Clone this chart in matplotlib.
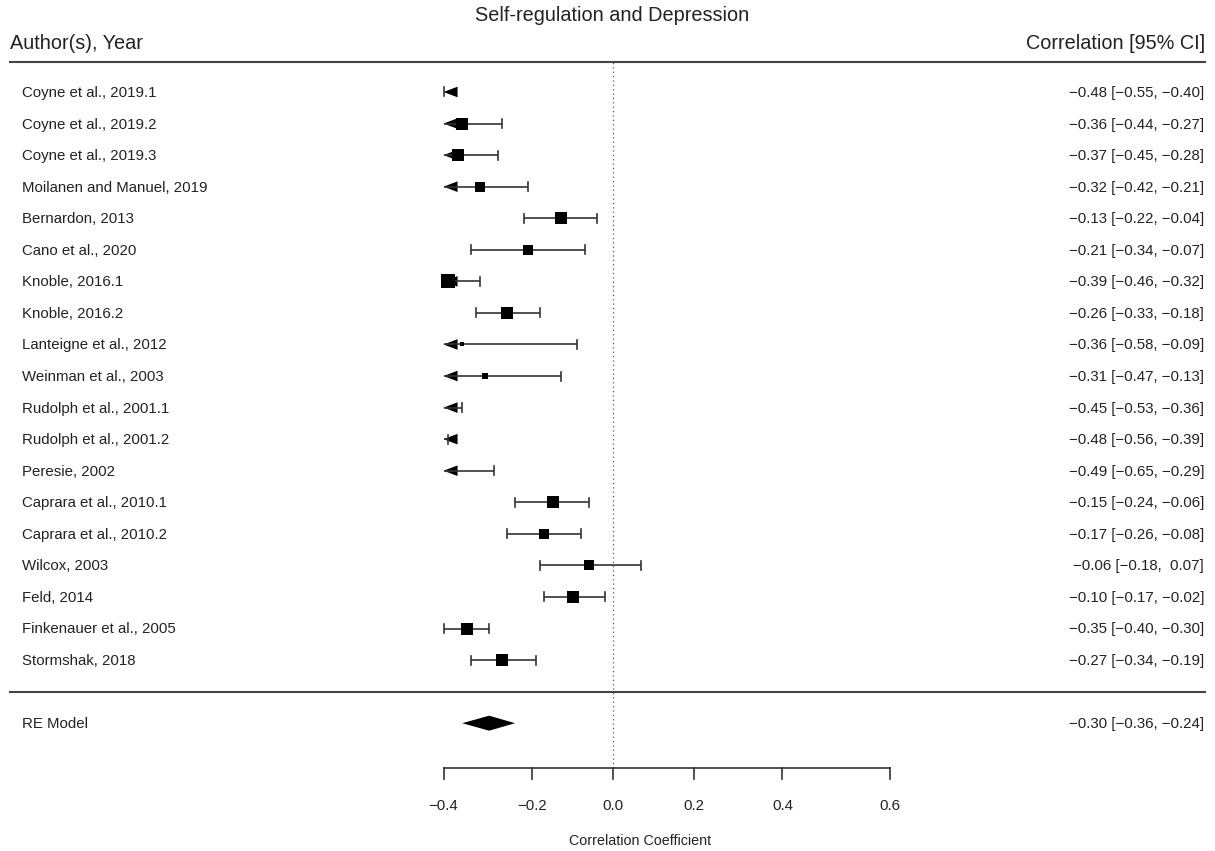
import numpy as np
import matplotlib.pyplot as plt
from matplotlib.patches import Polygon

plt.rcParams['font.family'] = ['Liberation Sans', 'DejaVu Sans']

authors = ["Coyne et al., 2019.1", "Coyne et al., 2019.2", "Coyne et al., 2019.3",
           "Moilanen and Manuel, 2019", "Bernardon, 2013", "Cano et al., 2020",
           "Knoble, 2016.1", "Knoble, 2016.2", "Lanteigne et al., 2012",
           "Weinman et al., 2003", "Rudolph et al., 2001.1", "Rudolph et al., 2001.2",
           "Peresie, 2002", "Caprara et al., 2010.1", "Caprara et al., 2010.2",
           "Wilcox, 2003", "Feld, 2014", "Finkenauer et al., 2005", "Stormshak, 2018"]
est = [-0.48, -0.36, -0.37, -0.32, -0.13, -0.21, -0.39, -0.26, -0.36, -0.31,
       -0.45, -0.48, -0.49, -0.15, -0.17, -0.06, -0.10, -0.35, -0.27]
lower = [-0.55, -0.44, -0.45, -0.42, -0.22, -0.34, -0.46, -0.33, -0.58, -0.47,
         -0.53, -0.56, -0.65, -0.24, -0.26, -0.18, -0.17, -0.40, -0.34]
upper = [-0.40, -0.27, -0.28, -0.21, -0.04, -0.07, -0.32, -0.18, -0.09, -0.13,
         -0.36, -0.39, -0.29, -0.06, -0.08, 0.07, -0.02, -0.30, -0.19]
weights = [5.8, 5.3, 5.2, 4.8, 5.1, 4.3, 6.4, 5.2, 2.4, 3.3,
           5.6, 5.5, 3.4, 5.1, 4.9, 4.7, 5.1, 5.6, 5.1]

re_est, re_lower, re_upper = -0.30, -0.36, -0.24

tick_vals = [-0.4, -0.2, 0.0, 0.2, 0.4, 0.6]

title = "Self-regulation and Depression"
xlabel = "Correlation Coefficient"

# everything is plotted on the Fisher z scale, labels are back-transformed r
z = np.arctanh
alim = (z(tick_vals[0]), z(tick_vals[-1]))

W, H = 1215, 851
fig = plt.figure(figsize=(W / 100, H / 100), dpi=100)
ax = fig.add_axes([0, 0, 1, 1])
ax.set_axis_off()

# one x unit = 400 px, one row = 31.56 px
px_x = 400.0
px_row = 31.56
x0 = 613
ax.set_xlim(-x0 / px_x, (W - x0) / px_x)
ax.set_ylim(19 - (H - 92) / px_row, 19 + 92 / px_row)

k = len(authors)
rows = np.arange(k, 0, -1)
fs = 10.8
tc = '#222222'
lc = '#333333'


def fmt(v):
    return f"{v:5.2f}".replace('-', '\u2212')


def ci_text(e, lo, hi):
    s_lo = fmt(lo).strip()
    s_hi = fmt(hi).strip()
    gap = ',  ' if hi >= 0 else ', '
    return f"{fmt(e).strip()} [{s_lo}{gap}{s_hi}]"


xl = (22 - x0) / px_x
xr = (1204 - x0) / px_x
tick_h = 4.5 / px_row
arr_len = 14 / px_x
arr_h = 5.3 / px_row

wmin, wmax = min(weights), max(weights)

for i in range(k):
    r = rows[i]
    lo, hi, yi = z(lower[i]), z(upper[i]), z(est[i])
    ax.text(xl, r - 0.03, authors[i], ha='left', va='center', fontsize=fs, color=tc)
    ax.text(xr, r - 0.03, ci_text(est[i], lower[i], upper[i]),
            ha='right', va='center', fontsize=fs, color=tc)

    lo_c = max(lo, alim[0])
    hi_c = min(hi, alim[1])
    ax.plot([lo_c, hi_c], [r, r], color=lc, lw=1.2, solid_capstyle='butt')
    if lo < alim[0] - 1e-9:
        ax.add_patch(Polygon([[alim[0], r], [alim[0] + arr_len, r + arr_h],
                              [alim[0] + arr_len, r - arr_h]], closed=True,
                             color='black', lw=0))
    else:
        ax.plot([lo, lo], [r - tick_h, r + tick_h], color=lc, lw=1.2)
    if hi > alim[1]:
        ax.add_patch(Polygon([[alim[1], r], [alim[1] - arr_len, r + arr_h],
                              [alim[1] - arr_len, r - arr_h]], closed=True,
                             color='black', lw=0))
    else:
        ax.plot([hi, hi], [r - tick_h, r + tick_h], color=lc, lw=1.2)

    # square size grows with the study weight, hidden if estimate is off the axis
    if alim[0] <= yi <= alim[1]:
        side = 9.4 * (0.5 + (weights[i] - wmin) / (wmax - wmin))
        ax.scatter([yi], [r], marker='s', s=(side * 0.72) ** 2, color='black',
                   linewidths=0, zorder=3)

# pooled estimate
re_row = -1
d_h = 7.5 / px_row
ax.add_patch(Polygon([[z(re_lower), re_row], [z(re_est), re_row + d_h],
                      [z(re_upper), re_row], [z(re_est), re_row - d_h]],
                     closed=True, color='black', lw=0))
ax.text(xl, re_row - 0.03, "RE Model", ha='left', va='center', fontsize=fs, color=tc)
ax.text(xr, re_row - 0.03, ci_text(re_est, re_lower, re_upper),
        ha='right', va='center', fontsize=fs, color=tc)

# header, separators and reference line
line_x = [(10 - x0) / px_x, (1205 - x0) / px_x]
ax.plot(line_x, [19.95, 19.95], color='#444444', lw=1.5)
ax.plot(line_x, [0.0, 0.0], color='#444444', lw=1.5)
axis_row = 19 - (768 - 92) / px_row
ax.plot([0, 0], [axis_row, 19.95], color='#555555', lw=0.9, ls=(0, (1, 2.5)))

ax.text(xl - 12 / px_x, 20.55, "Author(s), Year", ha='left', va='center',
        fontsize=14.3, color=tc)
ax.text(xr + 1 / px_x, 20.55, "Correlation [95% CI]", ha='right', va='center',
        fontsize=14.3, color=tc)
ax.text((612 - x0) / px_x, 21.42, title, ha='center', va='center',
        fontsize=14.3, color=tc)

# x axis on the z scale with r labels
ax.plot([alim[0], alim[1]], [axis_row, axis_row], color=lc, lw=1.2)
tick_bottom = axis_row - 11 / px_row
for v in tick_vals:
    ax.plot([z(v), z(v)], [axis_row, tick_bottom], color=lc, lw=1.2)
    ax.text(z(v), 19 - (806 - 92) / px_row, f"{v:.1f}".replace('-', '\u2212'),
            ha='center', va='center', fontsize=fs, color=tc)
ax.text((640 - x0) / px_x, 19 - (841 - 92) / px_row, xlabel, ha='center',
        va='center', fontsize=10.3, color=tc)

fig.savefig('out.png', dpi=100, facecolor='white')
